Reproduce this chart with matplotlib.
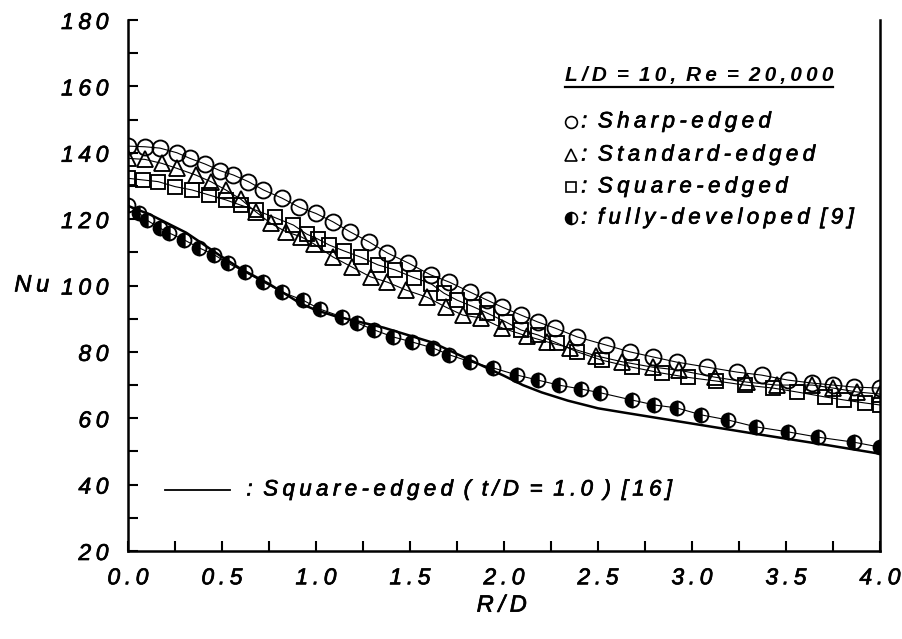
import matplotlib
matplotlib.use("Agg")
import matplotlib.pyplot as plt
import matplotlib.patheffects as pe
from matplotlib.ticker import MultipleLocator, FuncFormatter
from matplotlib.lines import Line2D

plt.rcParams['font.family'] = ['Liberation Sans', 'DejaVu Sans']
plt.rcParams['font.style'] = 'italic'

THIN = '\u2009'
HEAVY = [pe.withStroke(linewidth=0.5, foreground='black')]


def tracked(s):
    """Letter-spaced version of a label."""
    out = s[0]
    for prev, ch in zip(s, s[1:]):
        if ch != ' ':
            out += THIN
        out += ch
    return out


# ---- data -------------------------------------------------------------
sharp_r = [0.00, 0.09, 0.17, 0.26, 0.33, 0.41, 0.49, 0.56, 0.64, 0.72,
           0.82, 0.91, 1.00, 1.09, 1.18, 1.28, 1.38, 1.49, 1.61, 1.71,
           1.82, 1.91, 1.99, 2.09, 2.18, 2.27, 2.39, 2.54, 2.67, 2.79,
           2.92, 3.08, 3.24, 3.37, 3.51, 3.64, 3.75, 3.86, 4.00]
sharp_nu = [142.0, 141.8, 141.4, 140.0, 138.3, 136.6, 134.6, 133.3, 131.3, 128.8,
            126.3, 123.6, 121.7, 119.2, 116.2, 113.2, 109.8, 106.8, 103.2, 101.0,
            98.0, 95.6, 93.5, 91.1, 89.0, 87.2, 84.5, 82.1, 80.0, 78.5,
            76.9, 75.4, 73.9, 73.0, 71.5, 70.6, 70.0, 69.4, 69.1]

std_r = [0.00, 0.09, 0.18, 0.26, 0.36, 0.44, 0.52, 0.60, 0.68, 0.76,
         0.84, 0.92, 0.99, 1.09, 1.19, 1.29, 1.38, 1.48, 1.59, 1.69,
         1.78, 1.88, 1.99, 2.12, 2.23, 2.35, 2.49, 2.63, 2.79, 2.93,
         3.12, 3.29, 3.45, 3.64, 3.75, 3.88, 4.00]
std_nu = [138.3, 138.0, 136.8, 135.3, 133.3, 131.3, 128.8, 126.0, 122.2, 118.7,
          116.2, 114.7, 112.5, 108.6, 105.6, 102.6, 101.0, 98.6, 96.5, 93.5,
          91.1, 90.2, 87.2, 84.8, 83.0, 81.2, 78.8, 77.0, 75.4, 74.5,
          72.4, 70.9, 70.0, 70.0, 69.1, 67.9, 67.3]

sq_r = [0.00, 0.08, 0.16, 0.25, 0.34, 0.43, 0.52, 0.60, 0.68, 0.78,
        0.88, 0.95, 1.01, 1.07, 1.15, 1.24, 1.33, 1.42, 1.52, 1.61,
        1.68, 1.75, 1.84, 1.91, 2.01, 2.09, 2.18, 2.28, 2.39, 2.52,
        2.68, 2.84, 2.98, 3.13, 3.28, 3.43, 3.56, 3.71, 3.81, 3.92, 4.00]
sq_nu = [132.3, 131.8, 131.3, 129.8, 128.8, 127.3, 125.8, 124.2, 122.7, 120.5,
         118.2, 115.5, 114.0, 112.2, 110.4, 108.5, 106.2, 104.7, 102.4, 100.6,
         97.7, 95.6, 93.5, 91.7, 89.0, 86.6, 85.1, 82.7, 80.0, 77.5,
         75.4, 73.6, 72.3, 71.2, 70.0, 69.1, 67.9, 66.4, 65.5, 64.6, 64.0]

fd_r = [0.00, 0.06, 0.10, 0.17, 0.22, 0.30, 0.38, 0.46, 0.53, 0.62,
        0.72, 0.82, 0.93, 1.02, 1.14, 1.22, 1.31, 1.41, 1.51, 1.62,
        1.71, 1.82, 1.94, 2.07, 2.18, 2.29, 2.41, 2.51, 2.68, 2.80,
        2.92, 3.05, 3.19, 3.34, 3.51, 3.67, 3.86, 4.00]
fd_nu = [124.2, 121.8, 119.7, 117.3, 115.8, 113.7, 111.3, 109.2, 106.8, 104.1,
         101.0, 98.0, 95.6, 92.9, 90.5, 88.7, 86.6, 84.5, 83.0, 81.2,
         79.1, 77.0, 75.2, 73.0, 71.5, 70.0, 68.8, 67.7, 65.5, 64.0,
         63.1, 61.0, 59.5, 57.4, 55.9, 54.3, 52.8, 51.3]

ref_r = [0.00, 0.12, 0.31, 0.49, 0.60, 0.75, 0.92, 1.00, 1.10, 1.36,
         1.62, 1.84, 2.00, 2.10, 2.20, 2.34, 2.50, 2.65, 3.00, 3.36, 3.72, 4.00]
ref_nu = [124.0, 121.3, 115.9, 109.0, 105.0, 100.5, 94.5, 92.6, 90.8, 87.3,
          82.8, 77.0, 72.8, 70.0, 67.8, 65.3, 63.0, 61.6, 58.4, 55.1, 51.9, 49.3]

series_labels = [": Sharp-edged", ": Standard-edged", ": Square-edged",
                 ": fully-developed [9]"]
ref_label = ": Square-edged ( t/D = 1.0 ) [16]"
title_text = "L/D = 10, Re = 20,000"

# ---- figure -----------------------------------------------------------
fig = plt.figure(figsize=(9.03, 6.39), dpi=100)
ax = fig.add_axes([128 / 903, 1 - 551 / 639, 752 / 903, 531 / 639])

ax.set_xlim(0, 4.0)
ax.set_ylim(20, 180)

mew = 1.35
thin_lw = 0.8
ax.plot(sharp_r, sharp_nu, color='black', lw=thin_lw, marker='o', ms=11.5,
        mfc='none', mec='black', mew=mew, zorder=3)
ax.plot(std_r, std_nu, color='black', lw=thin_lw, marker='^', ms=11,
        mfc='none', mec='black', mew=mew, zorder=3)
ax.plot(sq_r, sq_nu, color='black', lw=thin_lw, marker='s', ms=10,
        mfc='none', mec='black', mew=mew, zorder=3)
ax.plot(fd_r, fd_nu, color='black', lw=thin_lw, marker='o', ms=10,
        fillstyle='left', mfc='black', mfcalt='none', mec='black', mew=mew,
        zorder=3)
ax.plot(ref_r, ref_nu, color='black', lw=1.8, zorder=2)

# ---- axes styling -----------------------------------------------------
for side in ('left', 'bottom', 'right'):
    ax.spines[side].set_linewidth(1.8)
ax.spines['top'].set_visible(False)

ax.xaxis.set_major_locator(MultipleLocator(0.5))
ax.xaxis.set_minor_locator(MultipleLocator(0.25))
ax.yaxis.set_major_locator(MultipleLocator(20))
ax.yaxis.set_minor_locator(MultipleLocator(10))
ax.tick_params(which='both', direction='in', width=1.5, right=False, top=False)
ax.tick_params(which='major', length=7)
ax.tick_params(which='minor', length=7)
ax.tick_params(axis='y', which='major', pad=14, labelsize=16.5)
ax.tick_params(axis='x', which='major', pad=11, labelsize=16.5)
ax.xaxis.set_major_formatter(FuncFormatter(lambda v, p: tracked(f"{v:.1f}")))
ax.yaxis.set_major_formatter(FuncFormatter(lambda v, p: tracked(f"{v:.0f}")))
for lab in ax.get_xticklabels() + ax.get_yticklabels():
    lab.set_path_effects(HEAVY)

ax.text(-0.128, 0.501, tracked("Nu"), transform=ax.transAxes,
        ha='center', va='center', fontsize=17, path_effects=HEAVY)
ax.text(0.497, -0.102, tracked("R/D"), transform=ax.transAxes,
        ha='center', va='center', fontsize=17, path_effects=HEAVY)

# ---- legend block -----------------------------------------------------
title = ax.text(2.324, 163.4, tracked(title_text), ha='left', va='center',
                fontsize=15, fontweight='bold')

leg_y = [149.3, 139.3, 129.7, 120.3]
leg_marker_x = 2.356
ax.plot([leg_marker_x], [leg_y[0]], marker='o', ms=8.5, mfc='none',
        mec='black', mew=1.2, ls='none', clip_on=False)
ax.plot([leg_marker_x], [leg_y[1]], marker='^', ms=8.5, mfc='none',
        mec='black', mew=1.2, ls='none', clip_on=False)
ax.plot([leg_marker_x], [leg_y[2]], marker='s', ms=7.5, mfc='none',
        mec='black', mew=1.2, ls='none', clip_on=False)
ax.plot([leg_marker_x], [leg_y[3]], marker='o', ms=8.5, fillstyle='left',
        mfc='black', mfcalt='white', mec='black', mew=1.2, ls='none',
        clip_on=False)
for y, lab in zip(leg_y, series_labels):
    ax.text(2.41, y, tracked(lab), ha='left', va='center', fontsize=16,
            path_effects=HEAVY)

ax.plot([0.197, 0.543], [38.4, 38.4], color='black', lw=1.3)
ax.text(0.63, 38.4, tracked(ref_label), ha='left', va='center', fontsize=16,
        path_effects=HEAVY)

# underline beneath the condition heading
fig.canvas.draw()
bb = title.get_window_extent()
fig.add_artist(Line2D([bb.x0, bb.x1], [bb.y0 - 2, bb.y0 - 2],
                      transform=None, color='black', lw=1.6))

fig.savefig("out.png", dpi=100)
